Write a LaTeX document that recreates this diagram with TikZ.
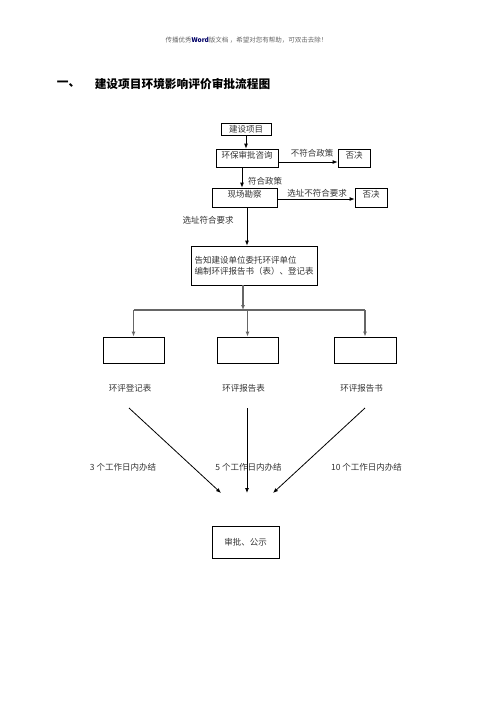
\documentclass[tikz,border=0pt]{standalone}
\usepackage{fontspec}
\setmainfont{Noto Sans CJK SC}
\usetikzlibrary{arrows.meta, positioning, calc}

\tikzset{
  txt/.style={font=\fontsize{8.5}{11}\selectfont, text=black!80, inner sep=1pt},
  box/.style={txt, draw=black, line width=0.8pt},
  upbox/.style={box, text height=7.5pt, text depth=7pt},
  arr/.style={-{Latex[length=5pt,width=4pt]}, line width=0.8pt},
  branch/.style={line width=1.2pt, draw=black!60}
}

\begin{document}
\begin{tikzpicture}[x=1pt, y=-1pt]
    \useasboundingbox (0,0) rectangle (496,702);
    % Header and title
    \node[font=\fontsize{6.5}{8}\selectfont, text=black!60] (head) at (246.5,40)
        {传播优秀\textcolor{blue!40!black}{\textbf{Word}}版文档 ，希望对您有帮助，可双击去除！};
    \node[font=\fontsize{11.7}{14}\selectfont\bfseries] (num) at (68.5,84) {一、};
    \node[font=\fontsize{11.7}{14}\selectfont\bfseries] (title) at (182.5,84) {建设项目环境影响评价审批流程图};

    % Project and policy check
    \node[box, minimum width=50pt, minimum height=12pt] (start) at (246,129) {建设项目};
    \node[upbox, minimum width=62pt, minimum height=18pt] (consult) at (247,158) {环保审批咨询};
    \node[upbox, minimum width=32pt, minimum height=18pt] (reject1) at (354,158) {否决};
    \draw[arr] (start.south) -- (start.south |- consult.north);
    \draw[arr] ([yshift=-4pt]consult.east) -- ([yshift=-4pt]reject1.west);
    \node[txt] (nopolicy) at (312,153) {不符合政策};

    % Site survey
    \node[upbox, minimum width=65pt, minimum height=19pt] (survey) at (244.5,197.5) {现场勘察};
    \node[upbox, minimum width=32pt, minimum height=19pt] (reject2) at (371,197.5) {否决};
    \draw[arr] ([xshift=-5pt]consult.south) -- ([xshift=-5pt]consult.south |- survey.north);
    \node[txt] (policy) at (265,181) {符合政策};
    \draw[arr] ([yshift=-1.5pt]survey.east) -- ([yshift=-1.5pt]reject2.west);
    \node[txt] (nosite) at (317,193) {选址不符合要求};

    % Notify
    \node[box, align=left, minimum width=126pt, minimum height=39pt] (notify) at (254,265.5)
        {告知建设单位委托环评单位\\编制环评报告书（表）、登记表};
    \draw[arr] ([xshift=2.5pt]survey.south) -- ([xshift=2.5pt]survey.south |- notify.north);
    \node[txt] (site) at (208,220) {选址符合要求};

    % Three forms
    \node[box, minimum width=61pt, minimum height=26pt] (form1) at (133.5,350) {};
    \node[box, minimum width=61pt, minimum height=26pt] (form2) at (247.5,350) {};
    \node[box, minimum width=62pt, minimum height=26pt] (form3) at (365,350) {};
    \coordinate (split) at (243,310);
    \draw[arr, branch] (notify.south -| split) -- (split);
    \draw[branch] (form1 |- split) -- (form3 |- split);
    \foreach \f in {form1,form2,form3}
        \draw[arr, branch] (\f |- split) -- (\f.north);
    \node[txt] (lab1) at (130,388) {环评登记表};
    \node[txt] (lab2) at (243.5,388) {环评报告表};
    \node[txt] (lab3) at (361.5,388) {环评报告书};

    % Time limits
    \coordinate (s1) at (129,408);
    \coordinate (s2) at (247,408);
    \coordinate (s3) at (365,408);
    \coordinate (e1) at (221,493);
    \coordinate (e2) at (247,493);
    \coordinate (e3) at (273,493);
    \draw[arr] (s1) -- (e1);
    \draw[arr] (s2) -- (e2);
    \draw[arr] (s3) -- (e3);
    \node[txt] (day1) at (123,467) {3 个工作日内办结};
    \node[txt] (day2) at (248.5,467) {5 个工作日内办结};
    \node[txt] (day3) at (366.5,467) {10 个工作日内办结};

    % Approval
    \node[box, minimum width=67pt, minimum height=32pt] (approve) at (245.5,542) {审批、公示};
\end{tikzpicture}
\end{document}
